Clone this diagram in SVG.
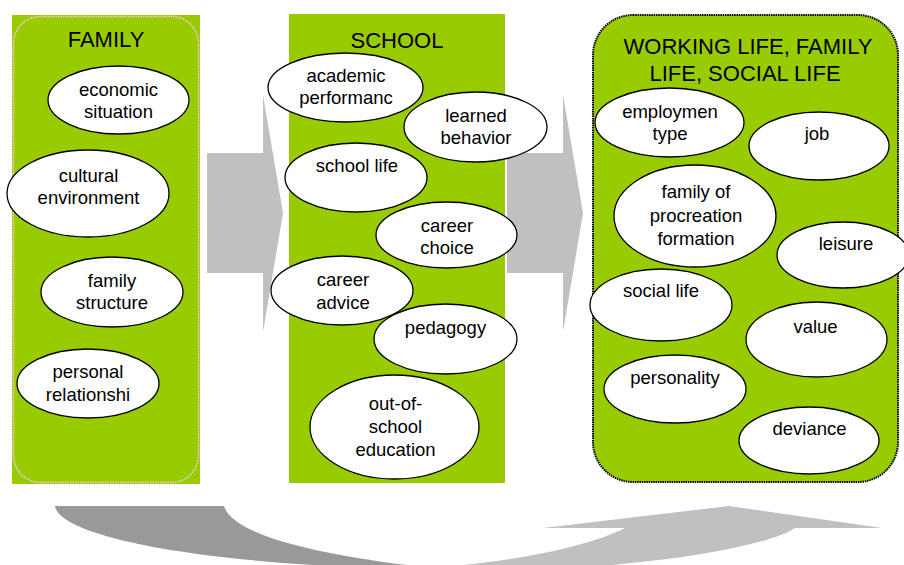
<svg xmlns="http://www.w3.org/2000/svg" width="904" height="565" viewBox="0 0 904 565">
  <style>
    .panel { fill: #99CC00; }
    .title { font-family: "Liberation Sans", Arial, sans-serif; font-size: 22px; fill: #000; text-anchor: middle; }
    .bubble ellipse { fill: #fff; stroke: #000; stroke-width: 1.3; }
    .bubble text { font-family: "Liberation Sans", Arial, sans-serif; font-size: 18.5px; fill: #000; text-anchor: middle; }
    .flow { fill: #C0C0C0; }
  </style>

  <!-- connectors: block arrows between the stages and the curved return arrow -->
  <g id="connectors">
    <path id="arrow-family-school" class="flow" d="M207,153 L263,153 L263,95 L283,213 L263,332 L263,273 L207,273 Z"/>
    <path id="arrow-school-life" class="flow" d="M507,153 L563,153 L563,95 L583,213 L563,332 L563,273 L507,273 Z"/>
    <path id="return-left" fill="#999999" d="M55,506 L224,506 C232,532 300,552 415,566 L330,566 C150,556 58,530 55,506 Z"/>
    <path id="return-right" class="flow" d="M453,566 C520,560 590,546 625,528 L543,528 L729,506 L882,528 L795,528 C775,542 700,558 600,566 Z"/>
  </g>

  <!-- FAMILY stage -->
  <g id="family">
    <rect class="panel" x="12" y="15" width="188" height="469"/>
    <rect x="13.5" y="16.5" width="185" height="466" rx="27" ry="27" fill="none" stroke="#F4C8F0" stroke-width="1.5" stroke-dasharray="1.5 1"/>
    <text class="title" x="106" y="47">FAMILY</text>
  </g>
  <g id="economic-situation" class="bubble">
    <ellipse cx="118.5" cy="100" rx="70.5" ry="34"/>
    <text x="118.5" y="96">economic</text>
    <text x="118.5" y="118">situation</text>
  </g>
  <g id="cultural-environment" class="bubble">
    <ellipse cx="88" cy="193.5" rx="81" ry="43.5"/>
    <text x="88.5" y="182">cultural</text>
    <text x="88.5" y="204">environment</text>
  </g>
  <g id="family-structure" class="bubble">
    <ellipse cx="112" cy="292" rx="71" ry="35"/>
    <text x="112" y="287">family</text>
    <text x="112" y="309">structure</text>
  </g>
  <g id="personal-relationship" class="bubble">
    <ellipse cx="88" cy="383.5" rx="71" ry="34.5"/>
    <text x="88" y="378">personal</text>
    <text x="88" y="401">relationshi</text>
  </g>

  <!-- SCHOOL stage -->
  <g id="school">
    <rect class="panel" x="289" y="14" width="216" height="469"/>
    <text class="title" x="397" y="48">SCHOOL</text>
  </g>
  <g id="academic-performance" class="bubble">
    <ellipse cx="345.5" cy="87.5" rx="77.5" ry="34.5"/>
    <text x="346" y="82">academic</text>
    <text x="346" y="104">performanc</text>
  </g>
  <g id="learned-behavior" class="bubble">
    <ellipse cx="475.5" cy="127" rx="71.5" ry="35"/>
    <text x="476" y="122">learned</text>
    <text x="476" y="144">behavior</text>
  </g>
  <g id="school-life" class="bubble">
    <ellipse cx="356" cy="177.5" rx="71" ry="34.5"/>
    <text x="357" y="172">school life</text>
  </g>
  <g id="career-choice" class="bubble">
    <ellipse cx="446.5" cy="235" rx="70.5" ry="33"/>
    <text x="447" y="232">career</text>
    <text x="447" y="254">choice</text>
  </g>
  <g id="career-advice" class="bubble">
    <ellipse cx="342" cy="290.5" rx="71" ry="34.5"/>
    <text x="343" y="286">career</text>
    <text x="343" y="309">advice</text>
  </g>
  <g id="pedagogy" class="bubble">
    <ellipse cx="445.5" cy="339" rx="71.5" ry="35"/>
    <text x="445.5" y="334">pedagogy</text>
  </g>
  <g id="out-of-school-education" class="bubble">
    <ellipse cx="394.5" cy="427" rx="84.5" ry="52"/>
    <text x="395.5" y="410">out-of-</text>
    <text x="395.5" y="433">school</text>
    <text x="395.5" y="456">education</text>
  </g>

  <!-- WORKING LIFE, FAMILY LIFE, SOCIAL LIFE stage -->
  <g id="working-life">
    <rect class="panel" x="593" y="15" width="305" height="467" rx="40" ry="40" stroke="#000" stroke-width="2" stroke-dasharray="1.5 0.8"/>
    <text class="title" x="748" y="54">WORKING LIFE, FAMILY</text>
    <text class="title" x="745" y="81">LIFE, SOCIAL LIFE</text>
  </g>
  <g id="employment-type" class="bubble">
    <ellipse cx="669.5" cy="122.5" rx="74.5" ry="34.5"/>
    <text x="670" y="118">employmen</text>
    <text x="670" y="140">type</text>
  </g>
  <g id="job" class="bubble">
    <ellipse cx="819" cy="146" rx="70" ry="34"/>
    <text x="817" y="140">job</text>
  </g>
  <g id="family-of-procreation" class="bubble">
    <ellipse cx="695" cy="216" rx="81" ry="51"/>
    <text x="696" y="198">family of</text>
    <text x="696" y="222">procreation</text>
    <text x="696" y="245">formation</text>
  </g>
  <g id="leisure" class="bubble">
    <ellipse cx="843" cy="255" rx="66" ry="33"/>
    <text x="846" y="250">leisure</text>
  </g>
  <g id="social-life" class="bubble">
    <ellipse cx="661" cy="305" rx="71" ry="36"/>
    <text x="661" y="297">social life</text>
  </g>
  <g id="value" class="bubble">
    <ellipse cx="816.5" cy="339.5" rx="70.5" ry="37.5"/>
    <text x="815.5" y="333">value</text>
  </g>
  <g id="personality" class="bubble">
    <ellipse cx="675" cy="389" rx="71" ry="34"/>
    <text x="675" y="384">personality</text>
  </g>
  <g id="deviance" class="bubble">
    <ellipse cx="809" cy="440.5" rx="70" ry="33.5"/>
    <text x="809.5" y="435">deviance</text>
  </g>
</svg>
